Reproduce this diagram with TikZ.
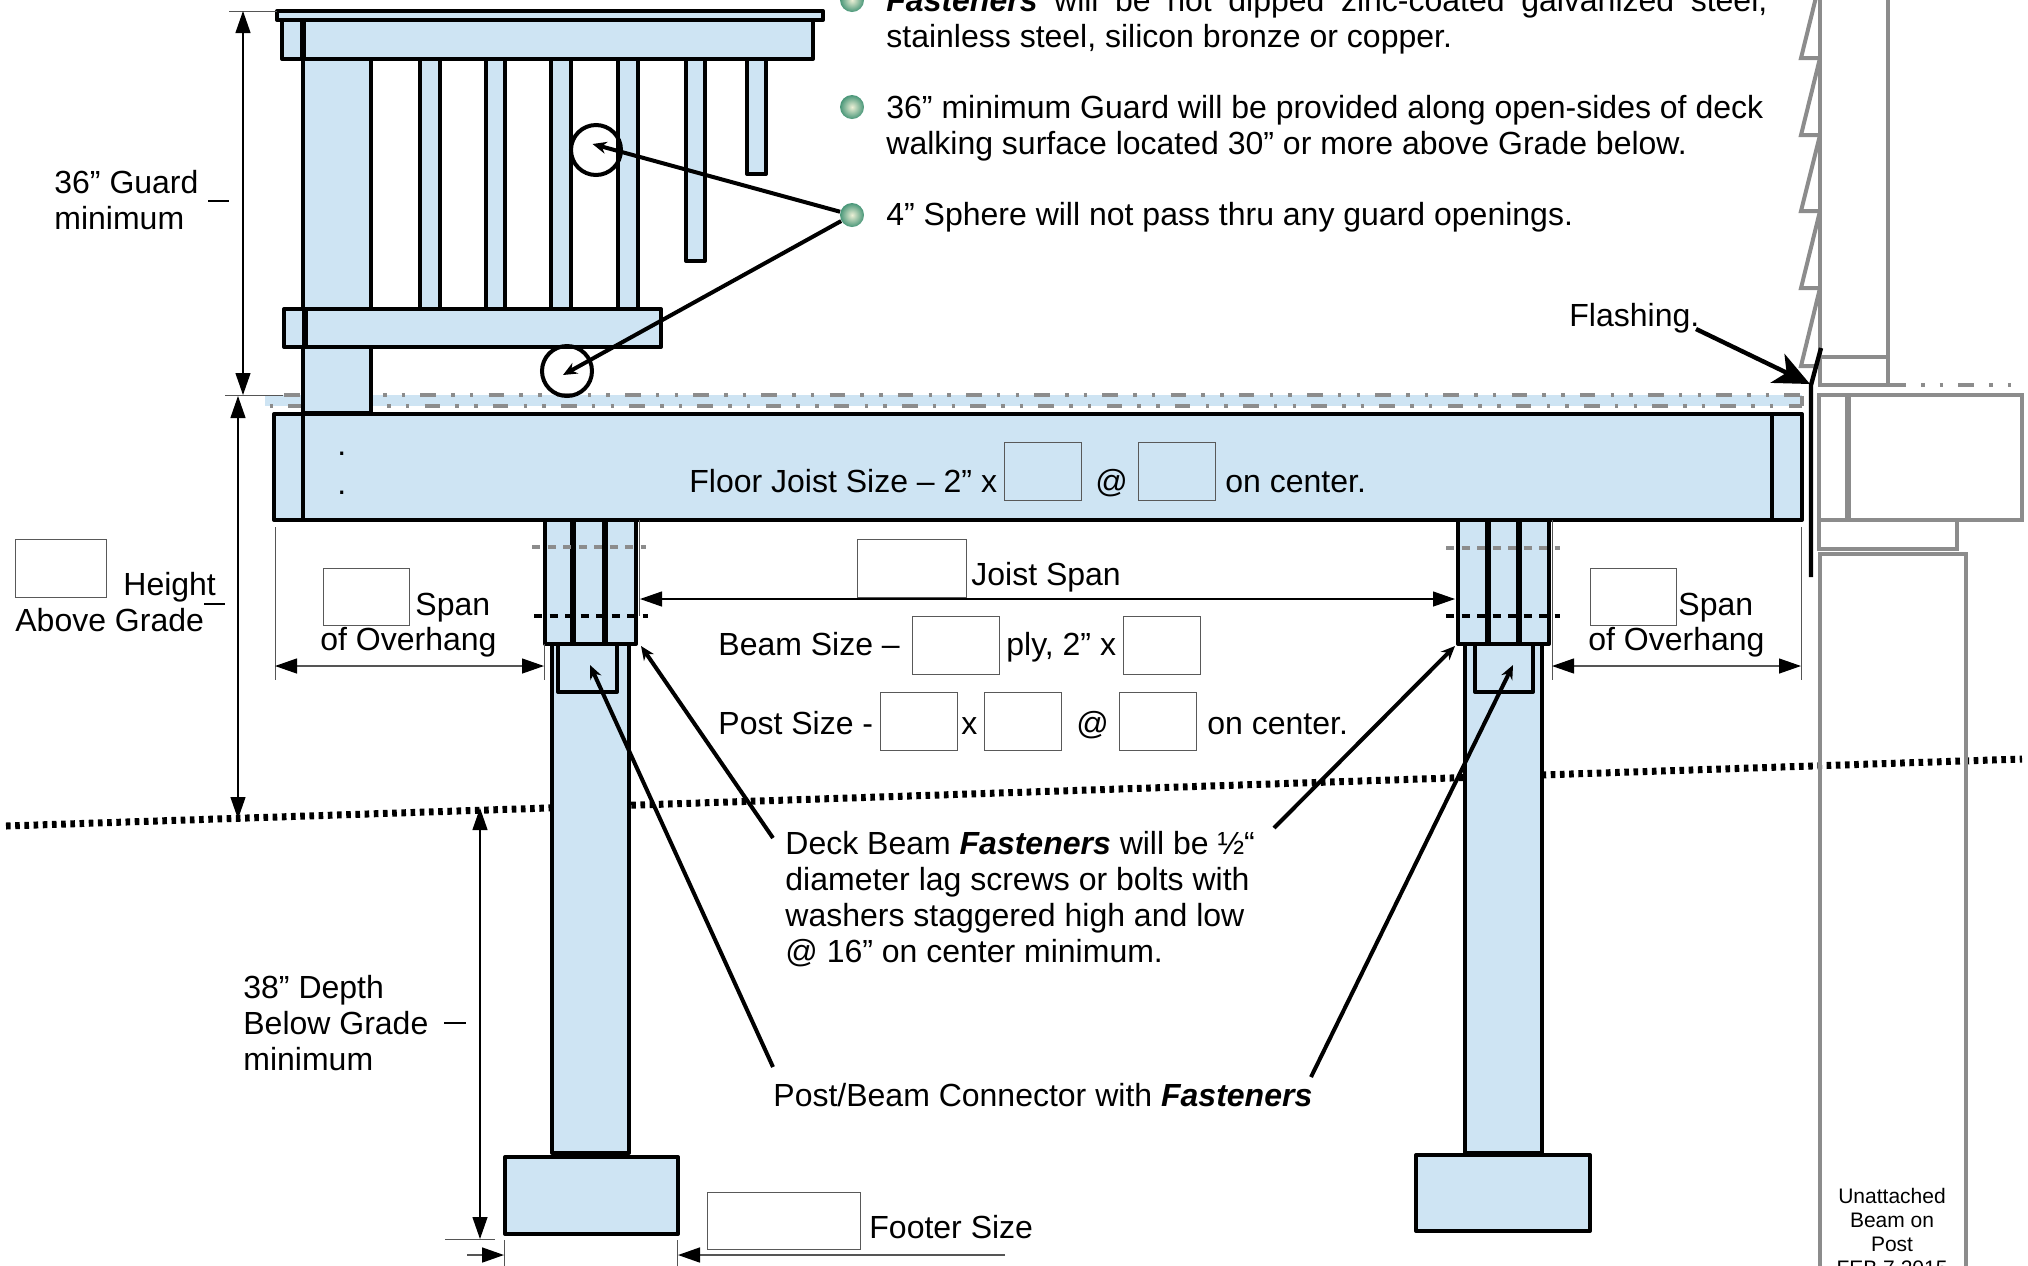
\documentclass[tikz,border=0pt]{standalone}
\usepackage{fontspec}
\setmainfont{Liberation Sans}
\usetikzlibrary{arrows.meta,shapes.geometric}
\definecolor{woodblue}{RGB}{206,228,243}
\definecolor{wallgray}{RGB}{140,140,140}
\definecolor{dimgray}{RGB}{85,85,85}
\definecolor{ballpale}{RGB}{236,240,214}
\definecolor{ballrim}{RGB}{72,150,120}

\begin{document}
\begin{tikzpicture}[
  x=0.5pt, y=-0.5pt,
  part/.style={draw=black, fill=woodblue, line width=2pt, line join=round},
  heavy/.style={draw=black, line width=2.8pt},
  wall/.style={draw=wallgray, line width=2pt, line join=miter},
  label/.style={anchor=base west, inner sep=0pt, font=\fontsize{16}{18}\selectfont},
  small/.style={align=center, inner sep=0pt, font=\fontsize{10.5}{12}\selectfont},
  blank/.style={draw=black!65, line width=0.5pt, inner sep=0pt, minimum width=38.5pt, minimum height=29pt},
  ball/.style={circle, inner sep=0pt, minimum size=12pt, shade, inner color=ballpale, outer color=ballrim},
  hole/.style={draw=black, line width=2pt, circle, inner sep=0pt, minimum size=25pt},
  line/.style={-{Stealth[length=7pt,width=6pt]}, line width=2pt, draw=black},
  bigline/.style={-{Stealth[length=18pt,width=16pt,inset=5pt]}, line width=2.2pt, draw=black},
  dim/.style={{Triangle[length=11pt,width=7.5pt,color=black]}-{Triangle[length=11pt,width=7.5pt,color=black]}, line width=0.6pt, draw=black},
  dimr/.style={-{Triangle[length=11pt,width=7.5pt,color=black]}, line width=0.8pt, draw=black},
  ext/.style={draw=dimgray, line width=0.5pt},
  center/.style={line width=2pt, draw=wallgray, dash pattern=on 7.8pt off 7.6pt on 1.75pt off 7.6pt on 1.75pt off 7.6pt},
  grade/.style={draw=black, line width=3.5pt, dash pattern=on 2.3pt off 2.3pt}
]
\useasboundingbox (0,0) rectangle (2028,1265);
\clip (0,0) rectangle (2028,1265);

% Grade
\draw[grade] (6,826) -- (2022,759);

% Deck boards
\fill[woodblue] (265,395) rectangle (1802,406);
\draw[center] (284,395) -- (1802,395);
\draw[center, dash phase=24.5pt] (269,406) -- (1802,406);
\draw[wallgray, line width=2pt] (1802,396) -- (1802,406);

% Wall side
\foreach \ytop/\ybot in {-19/58, 58/135, 135/211, 211/288, 288/366} {
  \draw[wall] (1820,\ytop) -- (1801,\ybot) -- (1820,\ybot);
}
\draw[wall] (1820,-10) -- (1820,385) -- (1888,385) -- (1888,-10);
\draw[wall] (1820,357) -- (1888,357);
\draw[center] (1822,385) -- (2013,385);
\draw[wall] (1819,395) rectangle (2022,520);
\draw[wall, line width=2.8pt] (1848,395) -- (1848,520);
\draw[wall] (1819,520) rectangle (1957,549);
\draw[wall] (1820,1280) -- (1820,554) -- (1966,554) -- (1966,1280);

% Flashing
\draw[black, line width=2.2pt] (1821,348) -- (1811,385) -- (1811,577);

% Guard rails
\draw[part] (303,25) rectangle (371,413);
\foreach \xa/\xb/\ybot in {420/440/309, 486/505/309, 551/571/309, 618/638/309, 686/705/261, 747/766/174} {
  \draw[part] (\xa,59) rectangle (\xb,\ybot);
}
\draw[part] (282,20) rectangle (813,59);
\draw[part] (277,11) rectangle (823,20);
\draw[heavy] (303,20) -- (303,59);
\draw[part] (284,309) rectangle (661,347);
\draw[heavy] (305,309) -- (305,347);

% Floor joist
\draw[part] (274,414) rectangle (1802,520);
\draw[draw=black, line width=2pt] (303,414) -- (303,520);
\draw[draw=black, line width=2pt] (1772,414) -- (1772,520);
\node[label] (dota) at (337,455) {.};
\node[label] (dotb) at (337,494) {.};

% Posts and footers
\draw[part] (552,640) rectangle (629,1153);
\draw[part] (1465,640) rectangle (1542,1153);
\draw[part] (558,644) rectangle (617,692);
\draw[part] (1475,644) rectangle (1533,692);
\draw[part] (505,1157) rectangle (678,1234);
\draw[part] (1416,1155) rectangle (1590,1231);

% Beams
\draw[part] (545,520) rectangle (636,644);
\draw[heavy] (573,520) -- (573,644);
\draw[heavy] (605,520) -- (605,644);
\draw[part] (1458,520) rectangle (1549,644);
\draw[heavy] (1488,520) -- (1488,644);
\draw[heavy] (1519,520) -- (1519,644);
\draw[wallgray, line width=2pt, dash pattern=on 4pt off 3.75pt] (532,547) -- (646,547);
\draw[black, line width=2pt, dash pattern=on 4pt off 3.75pt] (534,616) -- (648,616);
\draw[wallgray, line width=2pt, dash pattern=on 4pt off 3.75pt] (1446,548) -- (1560,548);
\draw[black, line width=2pt, dash pattern=on 4pt off 3.75pt] (1446,616) -- (1560,616);

% Guard openings
\node[hole] (holea) at (596,150) {};
\node[hole] (holeb) at (567,371) {};

% Bullets
\node[ball] (bulla) at (852,0) {};
\node[ball] (bullb) at (852,107) {};
\node[ball] (bullc) at (852,215) {};
\node[label, anchor=north west, text width=440.5pt, align=justify] (textf) at (886,-12) {\textbf{\textit{Fasteners}} will be hot dipped zinc-coated galvanized steel,\linebreak stainless steel, silicon bronze or copper.};
\node[label] (textga) at (886,118) {36” minimum Guard will be provided along open-sides of deck};
\node[label] (textgb) at (886,154) {walking surface located 30” or more above Grade below.};
\node[label] (texts) at (886,225) {4” Sphere will not pass thru any guard openings.};
\coordinate (tipa) at (592.5,144);
\coordinate (tipb) at (563,375);
\draw[line] (bullc) -- (tipa);
\draw[line] (bullc) -- (tipb);

% Left dimensions
\draw[ext] (229,11) -- (277,11);
\draw[ext] (225,395) -- (283,395);
\coordinate (guardtop) at (243,11);
\coordinate (guardbot) at (243,395);
\draw[dim] (guardtop) -- (guardbot);
\coordinate (hgttop) at (238,396);
\coordinate (hgtbot) at (238,819);
\draw[dim] (hgttop) -- (hgtbot);
\coordinate (deptop) at (480,808);
\coordinate (depbot) at (480,1239);
\draw[dim] (deptop) -- (depbot);
\draw[ext] (445,1239) -- (495,1239);

\node[label] (guardl) at (54,193) {36” Guard};
\node[label] (guardm) at (54,229) {minimum};
\draw[black, line width=1.25pt] (208,201) -- (229,201);
\node[blank, minimum width=45.5pt] (boxheight) at (60.5,568) {};
\node[label] (hgtl) at (123,595) {Height};
\node[label] (hgtm) at (15,631) {Above Grade};
\draw[black, line width=1.25pt] (204,604) -- (225,604);
\node[label] (depa) at (243,998) {38” Depth};
\node[label] (depb) at (243,1034) {Below Grade};
\node[label] (depc) at (243,1070) {minimum};
\draw[black, line width=1.25pt] (444,1023) -- (466,1023);

% Joist labels
\node[label] (joistl) at (689,492) {Floor Joist Size – 2” x};
\node[blank] (boxjoista) at (1042.5,471.5) {};
\node[label] (joistat) at (1095,492) {@};
\node[blank] (boxjoistb) at (1177,471.5) {};
\node[label] (joistoc) at (1225,492) {on center.};

% Overhang and joist span
\draw[ext] (275,527) -- (275,680);
\draw[ext] (544,644) -- (544,680);
\draw[ext] (639,520) -- (639,616);
\draw[ext] (1552,520) -- (1552,680);
\draw[ext] (1801,527) -- (1801,680);
\coordinate (ovla) at (275,666);
\coordinate (ovlb) at (544,666);
\draw[dim, draw=dimgray] (ovla) -- (ovlb);
\coordinate (ovra) at (1552,666);
\coordinate (ovrb) at (1801,666);
\draw[dim, draw=dimgray] (ovra) -- (ovrb);
\coordinate (spana) at (640,599);
\coordinate (spanb) at (1455,599);
\draw[dim] (spana) -- (spanb);
\node[blank, minimum width=43pt, minimum height=28.5pt] (boxspanl) at (366,596.5) {};
\node[label] (spanl) at (415,615) {Span};
\node[label] (overl) at (320,650) {of Overhang};
\node[blank, minimum width=43pt, minimum height=28.5pt] (boxspanr) at (1633.5,596.5) {};
\node[label] (spanr) at (1678,615) {Span};
\node[label] (overr) at (1588,650) {of Overhang};
\node[blank, minimum width=54.5pt] (boxjspan) at (911.5,568) {};
\node[label] (jspan) at (971,585) {Joist Span};

% Beam and post sizes
\node[label] (beaml) at (718,655) {Beam Size –};
\node[blank, minimum width=43.5pt] (boxbeama) at (955.5,645) {};
\node[label] (beamm) at (1006,655) {ply, 2” x};
\node[blank] (boxbeamb) at (1161.5,645) {};
\node[label] (postl) at (718,734) {Post Size -};
\node[blank] (boxposta) at (918.5,721) {};
\node[label] (postx) at (961,734) {x};
\node[blank] (boxpostb) at (1023,721) {};
\node[label] (postat) at (1076,734) {@};
\node[blank] (boxpostc) at (1157.5,721) {};
\node[label] (postoc) at (1207,734) {on center.};

% Fastener notes
\node[label] (notea) at (785,854) {Deck Beam \textbf{\textit{Fasteners}} will be ½“};
\node[label] (noteb) at (785,890) {diameter lag screws or bolts with};
\node[label] (notec) at (785,926) {washers staggered high and low};
\node[label] (noted) at (785,962) {@ 16” on center minimum.};
\node[label] (conn) at (773,1106) {Post/Beam Connector with \textbf{\textit{Fasteners}}};

\coordinate (dbfroml) at (773,838);
\coordinate (dbtipl) at (641,646);
\coordinate (dbfromr) at (1274,828);
\coordinate (dbtipr) at (1455,646);
\coordinate (pcfroml) at (773,1067);
\coordinate (pctipl) at (590,665);
\coordinate (pcfromr) at (1311,1077);
\coordinate (pctipr) at (1513,665);
\draw[line] (dbfroml) -- (dbtipl);
\draw[line] (dbfromr) -- (dbtipr);
\draw[line] (pcfroml) -- (pctipl);
\draw[line] (pcfromr) -- (pctipr);

% Footer size
\draw[ext] (504,1240) -- (504,1270);
\draw[ext] (677,1240) -- (677,1270);
\coordinate (ftla) at (467,1255);
\coordinate (ftlb) at (504,1255);
\coordinate (ftra) at (1005,1255);
\coordinate (ftrb) at (678,1255);
\draw[dimr, draw=dimgray] (ftla) -- (ftlb);
\draw[dimr, draw=dimgray] (ftra) -- (ftrb);
\node[blank, minimum width=76.5pt, minimum height=28.5pt] (boxfooter) at (783.5,1220.5) {};
\node[label] (footer) at (869,1238) {Footer Size};

% Flashing label
\node[label] (flash) at (1569,326) {Flashing.};
\coordinate (flashfrom) at (1696,329);
\coordinate (flashtip) at (1810,384);
\draw[bigline] (flashfrom) -- (flashtip);

% Stamp
\node[small] (stamp) at (1892,1232) {Unattached\\Beam on\\Post\\FEB 7 2015};

\end{tikzpicture}
\end{document}
